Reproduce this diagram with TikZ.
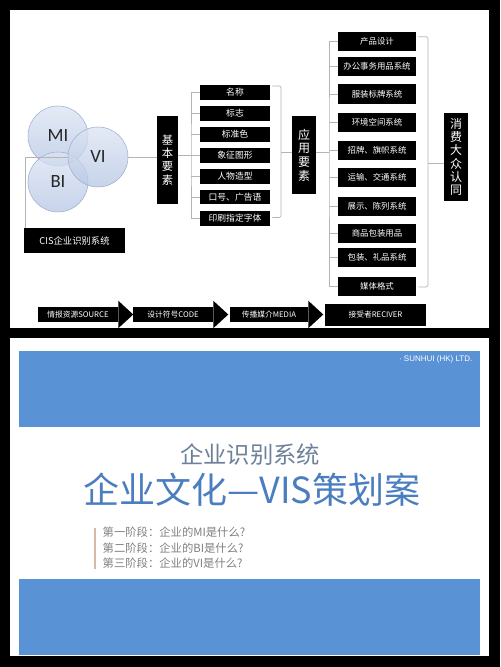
\documentclass[tikz,border=0pt]{standalone}
\usepackage{fontspec}
\setmainfont{Carlito}
\newfontfamily\cjk{Noto Sans CJK SC}
\newfontfamily\arialfont{Liberation Sans}
\usetikzlibrary{positioning,calc}
\definecolor{bandblue}{HTML}{5A92D6}
\definecolor{titleblue}{HTML}{4A7EC0}
\definecolor{subgray}{HTML}{6E819A}
\definecolor{stagegray}{HTML}{808080}
\definecolor{tanbar}{HTML}{D8B9A4}
\definecolor{circtop}{HTML}{DCE4F3}
\definecolor{circbot}{HTML}{B4C5E4}
\definecolor{circedge}{HTML}{9DAECB}
\definecolor{linegray}{HTML}{B4B4B4}

\tikzset{
  blackbox/.style={fill=black,text=white,inner sep=0pt,font=\cjk\fontsize{6.6}{8}\selectfont},
  itemA/.style={blackbox,minimum width=52.5pt,minimum height=10.9pt},
  itemB/.style={blackbox,minimum width=58.5pt,minimum height=14.25pt,font=\cjk\fontsize{6.3}{8}\selectfont},
  vbox/.style={blackbox,align=center},
  ring/.style={circle,draw=circedge,top color=circtop,bottom color=circbot,fill opacity=0.75,text opacity=1,
    minimum size=45pt,inner sep=0pt,text=black!85,font=\fontsize{14}{16}\selectfont},
  conn/.style={draw=linegray,line width=0.5pt},
  flowbox/.style={blackbox,minimum height=11.25pt,font=\cjk\fontsize{5.8}{7}\selectfont},
}

\begin{document}
\begin{tikzpicture}[x=0.75pt,y=-0.75pt]
\useasboundingbox (0,0) rectangle (500,667);
% frame and panels
\fill[black] (0,0) rectangle (500,667);
\fill[white] (10,10) rectangle (489,328);
\fill[white] (10,338) rectangle (489,656);

% ---- upper panel: CIS structure ----
\node[ring] (mi) at (58,136) {MI};
\node[ring] (bi) at (58,182) {BI};
\node[ring] (vi) at (98,157) {VI};
\node[blackbox,minimum width=75.75pt,minimum height=18.75pt,font=\cjk\fontsize{7}{8}\selectfont]
  (cis) at (74.5,240.5) {CIS企业识别系统};
\draw[conn] ([xshift=1pt]cis.north west) |- (vi.west);

\node[vbox,minimum width=15.75pt,minimum height=66pt,font=\cjk\fontsize{8.5}{10}\selectfont]
  (jbys) at (167.5,160) {基\\本\\要\\素};
\draw[conn] (vi.east) -- (vi.east -| jbys.west);

\foreach \n/\y/\t in {mc/92.5/名称, bz/113.5/标志, bzs/134.5/标准色, xz/155.5/象征图形,
    rw/176.5/人物造型, kh/197/口号、广告语, zt/218.5/印刷指定字体}
  \node[itemA] (\n) at (235,\y) {\t};

\coordinate (fork1) at (191,155);
\draw[conn] (jbys.east |- fork1) -- (fork1);
\draw[conn] (mc.west) -| (fork1) |- (zt.west);
\foreach \n in {bz,bzs,xz,rw,kh}
  \draw[conn] (\n.west) -- (\n.west -| fork1);

\node[vbox,minimum width=18pt,minimum height=58.5pt,font=\cjk\fontsize{9}{10.3}\selectfont]
  (yyys) at (304,155) {应\\用\\要\\素};
\coordinate (brace1) at (281,152);
\draw[conn,rounded corners=1.5pt] ($(mc.north east)+(2,1)$) -| (brace1) |- ($(zt.east)+(2,-1)$);
\draw[conn] (brace1) -- (yyys.west |- brace1);

\foreach \n/\y/\t in {cp/41.5/产品设计, bg/66.5/办公事务用品系统, fz/94/服装标牌系统,
    hj/122/环境空间系统, zp/150/招牌、旗帜系统, ys/177.5/运输、交通系统,
    zs/206/展示、陈列系统, sp/233.5/商品包装用品, lp/257.5/包装、礼品系统, mt/286/媒体格式}
  \node[itemB] (\n) at (377,\y) {\t};

\coordinate (fork2) at (329,152);
\draw[conn] (yyys.east |- fork2) -- (fork2);
\draw[conn] (cp.west) -| (fork2) |- (mt.west);
\foreach \n in {bg,fz,hj,zp,ys,zs,sp,lp}
  \draw[conn] (\n.west) -- (\n.west -| fork2);

\node[vbox,minimum width=18pt,minimum height=66pt,font=\cjk\fontsize{9}{10}\selectfont]
  (xfrt) at (456,157) {消\\费\\大\\众\\认\\同};
\coordinate (brace2) at (428,163);
\draw[conn,rounded corners=1.5pt] ($(cp.north east)+(2,5)$) -| (brace2) |- ($(mt.east)+(2,1)$);
\draw[conn] (brace2) -- (xfrt.west |- brace2);

% communication flow
\node[flowbox,minimum width=60pt] (src) at (78,314.5) {情报资源SOURCE};
\node[flowbox,minimum width=60pt] (code) at (173,314.5) {设计符号CODE};
\node[flowbox,minimum width=58.5pt] (media) at (269,314.5) {传播媒介MEDIA};
\node[flowbox,minimum width=75.75pt,minimum height=16.5pt] (recv) at (375.5,315) {接受者RECIVER};
\foreach \n in {src,code,media}
  \fill (\n.north east) -- ++(0,-6) -- ($(\n.east)+(15,0)$) -- ($(\n.south east)+(0,6)$)
    -- (\n.south east) -- cycle;

% ---- lower panel: title slide ----
\fill[bandblue] (19,351) rectangle (480,427);
\fill[bandblue] (19,579) rectangle (480,655);
\node[anchor=east,text=white,font=\arialfont\fontsize{6}{7}\selectfont] (firm) at (477,359) {· SUNHUI (HK) LTD.};
\node[text=subgray,font=\cjk\fontsize{17.5}{20}\selectfont] (sub) at (250,455) {企业识别系统};
\node[text=titleblue,font=\cjk\fontsize{27}{30}\selectfont] (title) at (252,490) {企业文化—VIS策划案};
\node[anchor=west,text=stagegray,font=\cjk\fontsize{8.5}{10}\selectfont] (st1) at (98,532) {第一阶段：企业的MI是什么?};
\node[anchor=west,text=stagegray,font=\cjk\fontsize{8.5}{10}\selectfont] (st2) at (98,548) {第二阶段：企业的BI是什么?};
\node[anchor=west,text=stagegray,font=\cjk\fontsize{8.5}{10}\selectfont] (st3) at (98,563.5) {第三阶段：企业的VI是什么?};
\draw[tanbar,line width=1pt] (95,528) -- (95,569);
\end{tikzpicture}
\end{document}
